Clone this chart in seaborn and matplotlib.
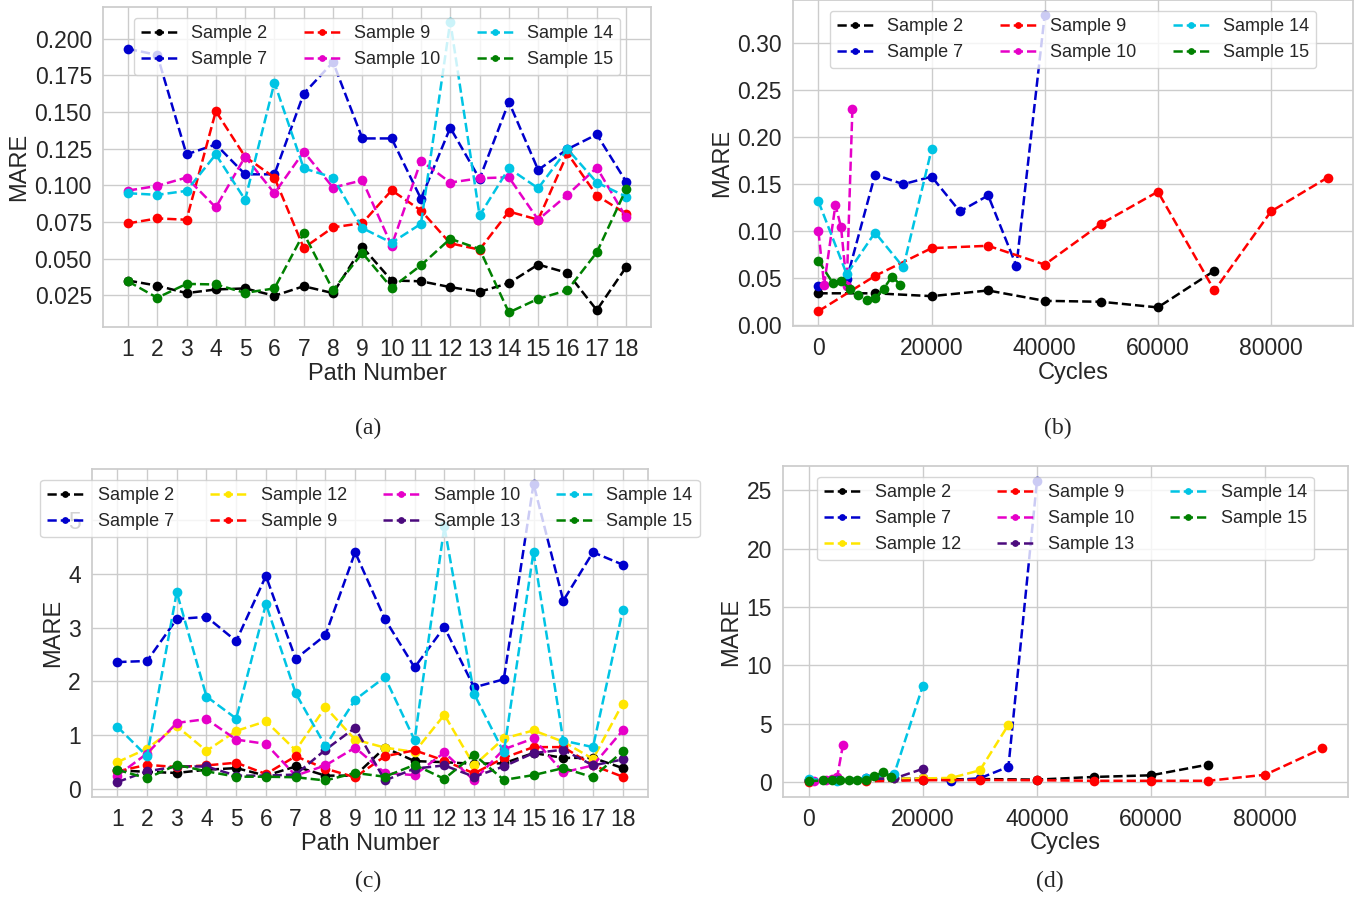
import matplotlib
matplotlib.use('Agg')
import matplotlib.pyplot as plt
from matplotlib.ticker import MultipleLocator
import seaborn as sns

# ------------------------------------------------------------
# data
# ------------------------------------------------------------
paths = list(range(1, 19))

# (a) MARE per path number
a_s2 = [0.0350, 0.0315, 0.0264, 0.0289, 0.0296, 0.0246, 0.0311, 0.0264, 0.0579,
        0.0350, 0.0345, 0.0305, 0.0273, 0.0332, 0.0459, 0.0402, 0.0148, 0.0441]
a_s7 = [0.1932, 0.1890, 0.1211, 0.1279, 0.1075, 0.1075, 0.1626, 0.1841, 0.1320,
        0.1320, 0.0908, 0.1393, 0.1044, 0.1569, 0.1105, 0.1247, 0.1347, 0.1025]
a_s9 = [0.0740, 0.0774, 0.0765, 0.1506, 0.1195, 0.1053, 0.0572, 0.0713, 0.0742,
        0.0966, 0.0828, 0.0604, 0.0561, 0.0821, 0.0765, 0.1218, 0.0930, 0.0806]
a_s10 = [0.0964, 0.0996, 0.1053, 0.0849, 0.1195, 0.0946, 0.1229, 0.0985, 0.1034,
         0.0588, 0.1168, 0.1019, 0.1048, 0.1055, 0.0765, 0.0935, 0.1121, 0.0781]
a_s14 = [0.0946, 0.0935, 0.0962, 0.1211, 0.0901, 0.1701, 0.1116, 0.1053, 0.0708,
         0.0608, 0.0737, 0.2118, 0.0794, 0.1116, 0.0980, 0.1247, 0.1019, 0.0923]
a_s15 = [0.0345, 0.0232, 0.0327, 0.0323, 0.0266, 0.0296, 0.0672, 0.0284, 0.0538,
         0.0300, 0.0454, 0.0635, 0.0565, 0.0132, 0.0225, 0.0284, 0.0542, 0.0973]

# cycles for each sample (used in b and d)
cyc_s2 = [0, 10000, 20000, 30000, 40000, 50000, 60000, 70000]
cyc_s7 = [0, 5000, 10000, 15000, 20000, 25000, 30000, 35000, 40000]
cyc_s9 = [0, 10000, 20000, 30000, 40000, 50000, 60000, 70000, 80000, 90000]
cyc_s10 = [0, 1000, 3000, 4000, 5000, 6000]
cyc_s12 = [0, 5000, 10000, 15000, 20000, 25000, 30000, 35000]
cyc_s13 = [0, 5000, 10000, 15000, 20000]
cyc_s14 = [0, 5000, 10000, 15000, 20000]
cyc_s15 = [0, 2500, 4000, 5500, 7000, 8500, 10000, 11500, 13000, 14500]

# (b) MARE per cycles
b_s2 = [0.034, 0.034, 0.031, 0.037, 0.026, 0.025, 0.019, 0.058]
b_s7 = [0.042, 0.049, 0.160, 0.150, 0.158, 0.121, 0.138, 0.063, 0.330]
b_s9 = [0.015, 0.0525, 0.082, 0.0845, 0.0645, 0.108, 0.142, 0.037, 0.121, 0.157]
b_s10 = [0.0997, 0.043, 0.128, 0.104, 0.042, 0.230]
b_s14 = [0.1316, 0.0543, 0.0986, 0.0617, 0.187]
b_s15 = [0.0684, 0.0454, 0.0475, 0.039, 0.032, 0.027, 0.0287, 0.0387, 0.0518, 0.0429]

# (c) MARE per path number
c_s2 = [0.35, 0.32, 0.30, 0.36, 0.39, 0.25, 0.42, 0.25, 0.25,
        0.77, 0.52, 0.50, 0.47, 0.48, 0.67, 0.58, 0.58, 0.39]
c_s7 = [2.36, 2.38, 3.16, 3.20, 2.75, 3.96, 2.42, 2.86, 4.40,
        3.16, 2.26, 3.01, 1.89, 2.04, 5.67, 3.50, 4.40, 4.17]
c_s12 = [0.50, 0.75, 1.17, 0.71, 1.08, 1.26, 0.72, 1.52, 0.92,
         0.77, 0.69, 1.38, 0.44, 0.94, 1.09, 0.88, 0.56, 1.59]
c_s9 = [0.33, 0.45, 0.41, 0.44, 0.49, 0.28, 0.61, 0.38, 0.22,
        0.61, 0.72, 0.53, 0.29, 0.58, 0.78, 0.78, 0.44, 0.23]
c_s10 = [0.25, 0.66, 1.23, 1.30, 0.92, 0.84, 0.25, 0.44, 0.77,
         0.30, 0.26, 0.68, 0.16, 0.74, 0.94, 0.31, 0.44, 1.09]
c_s13 = [0.13, 0.33, 0.42, 0.42, 0.25, 0.25, 0.27, 0.73, 1.14,
         0.16, 0.38, 0.44, 0.23, 0.42, 0.67, 0.73, 0.44, 0.55]
c_s14 = [1.16, 0.61, 3.66, 1.72, 1.31, 3.44, 1.78, 0.80, 1.66,
         2.08, 0.91, 4.88, 1.77, 0.68, 4.41, 0.90, 0.78, 3.32]
c_s15 = [0.36, 0.20, 0.45, 0.33, 0.23, 0.23, 0.22, 0.16, 0.30,
         0.23, 0.45, 0.19, 0.64, 0.17, 0.26, 0.39, 0.22, 0.70]

# (d) MARE per cycles
d_s2 = [0.10, 0.15, 0.20, 0.25, 0.20, 0.43, 0.57, 1.49]
d_s7 = [0.20, 0.15, 0.35, 0.30, 0.30, 0.12, 0.32, 1.30, 25.8]
d_s9 = [0.0, 0.05, 0.15, 0.17, 0.15, 0.10, 0.10, 0.10, 0.62, 2.88]
d_s10 = [0.15, 0.10, 0.20, 0.25, 0.45, 3.15]
d_s12 = [0.20, 0.20, 0.25, 0.30, 0.30, 0.35, 1.00, 4.90]
d_s13 = [0.15, 0.20, 0.25, 0.30, 1.12]
d_s14 = [0.25, 0.10, 0.35, 0.70, 8.25]
d_s15 = [0.06, 0.14, 0.14, 0.14, 0.14, 0.14, 0.20, 0.49, 0.83, 0.43]

colours = {
    'Sample 2': 'black',
    'Sample 7': 'mediumblue',
    'Sample 9': 'red',
    'Sample 10': '#e600c8',
    'Sample 12': '#ffe600',
    'Sample 13': '#4b0a7d',
    'Sample 14': '#00c4e4',
    'Sample 15': 'green',
}

# ------------------------------------------------------------
# style
# ------------------------------------------------------------
sns.set_theme(style='whitegrid')
plt.rcParams['font.family'] = ['Liberation Sans', 'DejaVu Sans']

W, H = 1355, 898
fig = plt.figure(figsize=(W / 100, H / 100), dpi=100)


def rect(left, top, right, bottom):
    return [left / W, 1 - bottom / H, (right - left) / W, (bottom - top) / H]


def draw(ax, xs, ys, name):
    sns.lineplot(x=xs, y=ys, ax=ax, color=colours[name], label=name,
                 linestyle='--', marker='o', markersize=7,
                 markeredgewidth=0, linewidth=1.8, sort=False)


def finish(ax, xlabel, ncol):
    ax.set_xlabel(xlabel, fontsize=17, labelpad=1)
    ax.set_ylabel('MARE', fontsize=17, labelpad=3)
    ax.tick_params(labelsize=16.5, pad=2)
    ax.legend(ncol=ncol, loc='upper center', fontsize=13, markerscale=0.7,
              handlelength=2.0, columnspacing=2.0, borderaxespad=0.6)


# (a)
ax_a = fig.add_axes(rect(103, 7, 651, 327))
for name, ys in [('Sample 2', a_s2), ('Sample 7', a_s7), ('Sample 9', a_s9),
                 ('Sample 10', a_s10), ('Sample 14', a_s14), ('Sample 15', a_s15)]:
    draw(ax_a, paths, ys, name)
ax_a.set_xticks(paths)
ax_a.yaxis.set_major_locator(MultipleLocator(0.025))
finish(ax_a, 'Path Number', 3)

# (b)
ax_b = fig.add_axes(rect(793, 0, 1353, 326))
for name, xs, ys in [('Sample 2', cyc_s2, b_s2), ('Sample 7', cyc_s7, b_s7),
                     ('Sample 9', cyc_s9, b_s9), ('Sample 10', cyc_s10, b_s10),
                     ('Sample 14', cyc_s14, b_s14), ('Sample 15', cyc_s15, b_s15)]:
    draw(ax_b, xs, ys, name)
finish(ax_b, 'Cycles', 3)

# (c)
ax_c = fig.add_axes(rect(92, 469, 648, 797))
for name, ys in [('Sample 2', c_s2), ('Sample 7', c_s7), ('Sample 12', c_s12),
                 ('Sample 9', c_s9), ('Sample 10', c_s10), ('Sample 13', c_s13),
                 ('Sample 14', c_s14), ('Sample 15', c_s15)]:
    draw(ax_c, paths, ys, name)
ax_c.set_xticks(paths)
finish(ax_c, 'Path Number', 4)

# (d)
ax_d = fig.add_axes(rect(783, 466, 1348, 797))
for name, xs, ys in [('Sample 2', cyc_s2, d_s2), ('Sample 7', cyc_s7, d_s7),
                     ('Sample 12', cyc_s12, d_s12), ('Sample 9', cyc_s9, d_s9),
                     ('Sample 10', cyc_s10, d_s10), ('Sample 13', cyc_s13, d_s13),
                     ('Sample 14', cyc_s14, d_s14), ('Sample 15', cyc_s15, d_s15)]:
    draw(ax_d, xs, ys, name)
finish(ax_d, 'Cycles', 3)

# captions
for label, x, y in [('(a)', 368, 428), ('(b)', 1058, 428),
                    ('(c)', 368, 881), ('(d)', 1050, 881)]:
    fig.text(x / W, 1 - y / H, label, ha='center', va='center', fontsize=17,
             family=['Liberation Serif', 'DejaVu Serif'])

fig.savefig('out.png', dpi=100)
